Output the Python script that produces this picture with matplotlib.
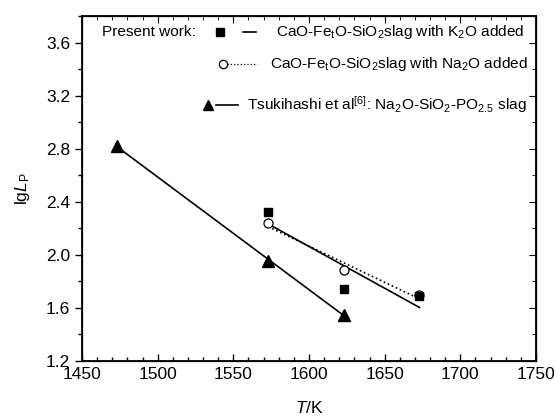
import numpy as np
import matplotlib
matplotlib.use("Agg")
import matplotlib.pyplot as plt
from matplotlib.ticker import MultipleLocator

plt.rcParams['font.family'] = ['Liberation Sans', 'DejaVu Sans']
plt.rcParams['mathtext.fontset'] = 'custom'
plt.rcParams['mathtext.rm'] = 'Liberation Sans'
plt.rcParams['mathtext.it'] = 'Liberation Sans:italic'

# data
T_k2o = [1573, 1623, 1673]
lgLp_k2o = [2.32, 1.745, 1.69]
T_na2o = [1573, 1623, 1673]
lgLp_na2o = [2.24, 1.885, 1.695]
T_tsuki = [1473, 1573, 1623]
lgLp_tsuki = [2.82, 1.955, 1.55]

fig = plt.figure(figsize=(5.55, 4.18), dpi=100)
ax = fig.add_axes([0.1477, 0.1364, 0.8181, 0.8253])

# linear fits of each series
for xs, ys, ls in [(T_k2o, lgLp_k2o, '-'), (T_na2o, lgLp_na2o, ':'), (T_tsuki, lgLp_tsuki, '-')]:
    p = np.polyfit(xs, ys, 1)
    xx = np.array([min(xs), max(xs)])
    ax.plot(xx, np.polyval(p, xx), color='black', lw=1.2, ls=ls)

ax.plot(T_na2o, lgLp_na2o, 'o', mfc='white', mec='black', mew=0.9, ms=6.5, ls='none', zorder=3)
ax.plot(T_k2o, lgLp_k2o, 's', color='black', ms=6, ls='none', zorder=4)
ax.plot(T_tsuki, lgLp_tsuki, '^', color='black', ms=8, ls='none', zorder=4)

ax.set_xlim(1450, 1750)
ax.set_ylim(1.2, 3.8)
ax.xaxis.set_major_locator(MultipleLocator(50))
ax.xaxis.set_minor_locator(MultipleLocator(10))
ax.yaxis.set_major_locator(MultipleLocator(0.4))
ax.yaxis.set_minor_locator(MultipleLocator(0.2))
ax.set_yticks([1.2, 1.6, 2.0, 2.4, 2.8, 3.2, 3.6])
ax.tick_params(axis='x', which='both', direction='in', labelsize=12.5, pad=4)
ax.tick_params(axis='y', which='both', direction='out', labelsize=12.5)
ax.tick_params(which='major', length=5, width=1)
ax.tick_params(which='minor', length=3, width=1)
for s in ax.spines.values():
    s.set_linewidth(1.3)

# right and top ticks point inward
ax2 = ax.twinx()
ax2.set_ylim(ax.get_ylim())
ax2.yaxis.set_major_locator(MultipleLocator(0.4))
ax2.yaxis.set_minor_locator(MultipleLocator(0.2))
ax2.tick_params(axis='y', which='both', direction='in', labelright=False)
ax2.tick_params(which='major', length=5)
ax2.tick_params(which='minor', length=3)
ax3 = ax.twiny()
ax3.set_xlim(ax.get_xlim())
ax3.xaxis.set_major_locator(MultipleLocator(50))
ax3.xaxis.set_minor_locator(MultipleLocator(10))
ax3.tick_params(axis='x', which='both', direction='in', labeltop=False)
ax3.tick_params(which='major', length=5)
ax3.tick_params(which='minor', length=3)

ax.set_xlabel(r'$\it{T}$/K', fontsize=12.5, labelpad=13)
ax.set_ylabel(r'lg$\it{L}$$_{\rm P}$', fontsize=12.5, labelpad=10)

# legend drawn by hand in pixel positions of figure
def fx(px):
    return px / 555.0
def fy(py):
    return 1 - py / 418.0

fs = 11.1
fig.text(fx(102), fy(32), 'Present work:', fontsize=fs, va='center')
fig.lines.append(plt.Line2D([fx(220)], [fy(32)], marker='s', color='black', ms=6, transform=fig.transFigure))
fig.lines.append(plt.Line2D([fx(243), fx(256)], [fy(32), fy(32)], color='black', lw=1.2, transform=fig.transFigure))
fig.text(fx(276), fy(32), r'CaO-Fe$_{\rm t}$O-SiO$_2$slag with K$_2$O added', fontsize=fs, va='center')

fig.lines.append(plt.Line2D([fx(223)], [fy(64)], marker='o', mfc='white', mec='black', mew=0.9, ms=6, transform=fig.transFigure))
fig.lines.append(plt.Line2D([fx(227), fx(257)], [fy(64), fy(64)], color='black', lw=0.9, ls=':', transform=fig.transFigure))
fig.text(fx(270), fy(64), r'CaO-Fe$_{\rm t}$O-SiO$_2$slag with Na$_2$O added', fontsize=fs, va='center')

fig.lines.append(plt.Line2D([fx(208)], [fy(105)], marker='^', color='black', ms=7, transform=fig.transFigure))
fig.lines.append(plt.Line2D([fx(216), fx(238)], [fy(105), fy(105)], color='black', lw=1.2, transform=fig.transFigure))
fig.text(fx(247), fy(105), r'Tsukihashi et al$^{[6]}$: Na$_2$O-SiO$_2$-PO$_{2.5}$ slag', fontsize=fs, va='center')

fig.savefig('out.png', dpi=100)
